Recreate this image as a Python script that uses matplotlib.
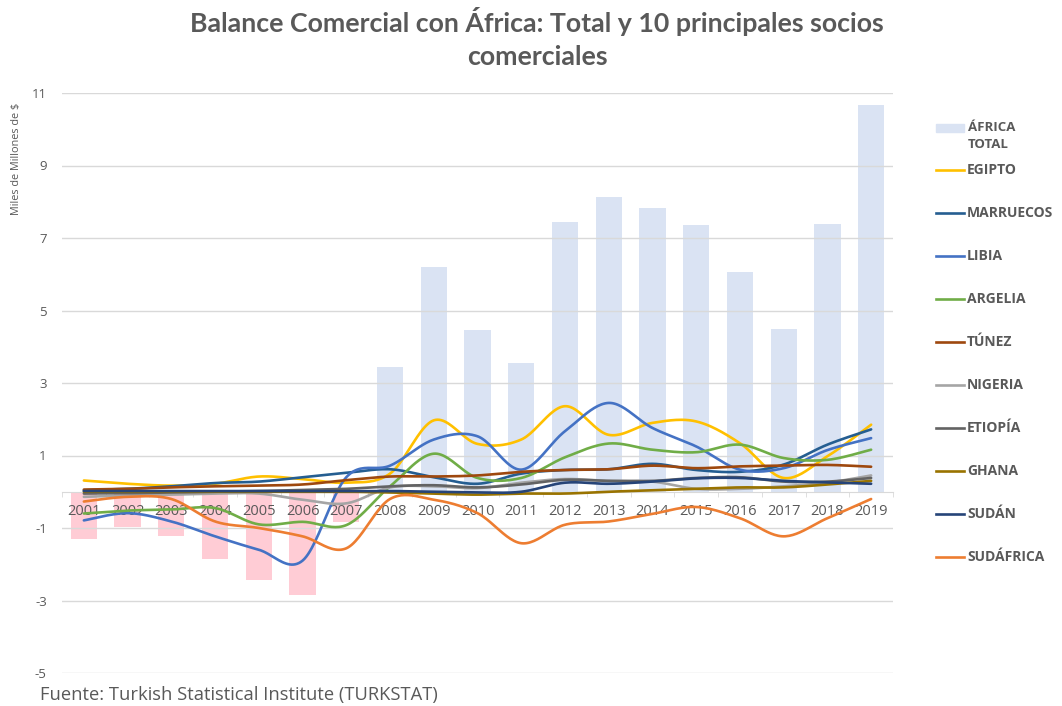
import numpy as np
import matplotlib
matplotlib.use("Agg")
import matplotlib.pyplot as plt
from matplotlib.lines import Line2D
from matplotlib.patches import Rectangle

# =========================
# Datos (miles de millones de $)
# =========================
years = [str(y) for y in range(2001, 2020)]

africa_total = [-1.30, -0.97, -1.22, -1.85, -2.43, -2.85, -0.83, 3.45, 6.21, 4.45,
                3.56, 7.43, 8.12, 7.82, 7.35, 6.05, 4.50, 7.40, 10.66]

egipto = [0.31, 0.22, 0.17, 0.22, 0.42, 0.35, 0.25, 0.50, 1.97, 1.32,
          1.44, 2.36, 1.57, 1.90, 1.94, 1.34, 0.38, 0.98, 1.85]
marruecos = [0.04, 0.08, 0.15, 0.24, 0.28, 0.40, 0.52, 0.62, 0.40, 0.22,
             0.50, 0.60, 0.62, 0.77, 0.60, 0.55, 0.75, 1.30, 1.72]
libia = [-0.79, -0.59, -0.82, -1.23, -1.60, -1.90, 0.40, 0.72, 1.44, 1.53,
         0.61, 1.67, 2.45, 1.76, 1.25, 0.61, 0.65, 1.15, 1.48]
argelia = [-0.60, -0.52, -0.49, -0.45, -0.90, -0.83, -0.92, 0.15, 1.05, 0.38,
           0.38, 0.95, 1.33, 1.16, 1.09, 1.30, 0.93, 0.88, 1.16]
tunez = [0.06, 0.08, 0.12, 0.15, 0.17, 0.20, 0.32, 0.42, 0.42, 0.45,
         0.55, 0.60, 0.62, 0.72, 0.65, 0.70, 0.72, 0.74, 0.69]
nigeria = [-0.14, -0.10, -0.08, -0.05, -0.05, -0.22, -0.32, 0.12, 0.15, 0.10,
           0.25, 0.35, 0.30, 0.28, 0.08, 0.08, 0.15, 0.25, 0.45]
etiopia = [-0.05, -0.04, -0.02, 0.00, 0.02, 0.05, 0.08, 0.15, 0.18, 0.12,
           0.20, 0.33, 0.30, 0.30, 0.38, 0.40, 0.28, 0.28, 0.38]
ghana = [0.00, 0.00, 0.00, 0.00, 0.00, 0.00, 0.00, -0.02, -0.05, -0.08,
         -0.05, -0.05, 0.00, 0.04, 0.08, 0.12, 0.12, 0.20, 0.30]
sudan = [0.02, 0.02, 0.02, 0.02, 0.02, 0.02, 0.02, 0.02, 0.00, -0.02,
         0.00, 0.25, 0.22, 0.28, 0.37, 0.38, 0.30, 0.26, 0.22]
sudafrica = [-0.27, -0.14, -0.20, -0.82, -1.00, -1.23, -1.56, -0.20, -0.22, -0.59,
             -1.42, -0.91, -0.82, -0.61, -0.42, -0.73, -1.23, -0.73, -0.20]

series_names = ["EGIPTO", "MARRUECOS", "LIBIA", "ARGELIA", "TÚNEZ",
                "NIGERIA", "ETIOPÍA", "GHANA", "SUDÁN", "SUDÁFRICA"]
series_vals = [egipto, marruecos, libia, argelia, tunez,
               nigeria, etiopia, ghana, sudan, sudafrica]
series_colors = ["#FFC000", "#255E91", "#4472C4", "#70AD47", "#9E480E",
                 "#A5A5A5", "#636363", "#997300", "#264478", "#ED7D31"]

GRIS = "#595959"


def suavizar(x, y, n=24):
    # curva tipo Excel (Bezier con puntos de control de los vecinos)
    x = np.asarray(x, float)
    y = np.asarray(y, float)
    xs, ys = [], []
    t = np.linspace(0, 1, n, endpoint=False)
    for i in range(len(x) - 1):
        i0 = max(i - 1, 0)
        i3 = min(i + 2, len(x) - 1)
        p1 = np.array([x[i], y[i]])
        p2 = np.array([x[i + 1], y[i + 1]])
        c1 = p1 + (p2 - np.array([x[i0], y[i0]])) / 6
        c2 = p2 - (np.array([x[i3], y[i3]]) - p1) / 6
        b = ((1 - t) ** 3)[:, None] * p1 + (3 * (1 - t) ** 2 * t)[:, None] * c1 \
            + (3 * (1 - t) * t ** 2)[:, None] * c2 + (t ** 3)[:, None] * p2
        xs.extend(b[:, 0])
        ys.extend(b[:, 1])
    xs.append(x[-1])
    ys.append(y[-1])
    return np.array(xs), np.array(ys)


plt.rcParams['font.family'] = ['Open Sans', 'DejaVu Sans']
plt.rcParams['axes.unicode_minus'] = False

W, H = 1062, 706
fig = plt.figure(figsize=(W / 100, H / 100), dpi=100)
ax = fig.add_axes([62 / W, 1 - 673 / H, (893 - 62) / W, (673 - 93) / H])

pos = np.arange(len(years))

# barras del total
bar_cols = ["#DAE3F3" if v >= 0 else "#FFCCD5" for v in africa_total]
ax.bar(pos, africa_total, width=0.6, color=bar_cols, zorder=1)

# lineas suavizadas
for vals, col in zip(series_vals, series_colors):
    xs, ys = suavizar(pos, vals)
    ax.plot(xs, ys, color=col, lw=1.9, zorder=3, solid_capstyle='round')

ax.set_xlim(-0.5, len(years) - 0.5)
ax.set_ylim(-5, 11)
ax.set_yticks(np.arange(-5, 12, 2))
ax.yaxis.grid(True, color="#D9D9D9", lw=1)
ax.set_axisbelow(False)

for s in ["left", "right", "top"]:
    ax.spines[s].set_visible(False)
ax.spines["bottom"].set_position(("data", 0))
ax.spines["bottom"].set_color("#D9D9D9")

ax.set_xticks(pos)
ax.set_xticklabels(years)
ax.set_xticks(np.arange(-0.5, len(years), 1), minor=True)
ax.tick_params(axis='x', which='major', length=0, pad=9, labelsize=10.5, labelcolor=GRIS)
ax.tick_params(axis='x', which='minor', length=3.5, color="#D9D9D9")
ax.tick_params(axis='y', length=0, pad=11, labelsize=9.5, labelcolor=GRIS)

# titulo
fig.text(537 / W, 1 - 22 / H, "Balance Comercial con África: Total y 10 principales socios",
         ha='center', va='center', fontsize=19.3, fontweight='bold', color=GRIS, family='Lato')
fig.text(537 / W, 1 - 57 / H, "comerciales",
         ha='center', va='center', fontsize=19.3, fontweight='bold', color=GRIS, family='Lato')

fig.text(17 / W, 1 - 159 / H, "Miles de Millones de $", rotation=90,
         ha='center', va='center', fontsize=7.8, color=GRIS)

fig.text(40 / W, 1 - 695 / H, "Fuente: Turkish Statistical Institute (TURKSTAT)",
         ha='left', va='center', fontsize=13.2, color=GRIS)

# leyenda
fig.add_artist(Rectangle((936 / W, 1 - 132 / H), 28 / W, 8 / H,
                         transform=fig.transFigure, color="#DAE3F3"))
fig.text(968 / W, 1 - 136 / H, "ÁFRICA\nTOTAL", ha='left', va='center',
         fontsize=9.5, fontweight='bold', color=GRIS, linespacing=1.35)
for k, (name, col) in enumerate(zip(series_names, series_colors)):
    yy = 1 - (170 + 43 * k) / H
    fig.add_artist(Line2D([936 / W, 964 / W], [yy, yy], transform=fig.transFigure,
                          color=col, lw=1.9))
    fig.text(967 / W, yy, name, ha='left', va='center', fontsize=10,
             fontweight='bold', color=GRIS)

fig.savefig("out.png", dpi=100)
